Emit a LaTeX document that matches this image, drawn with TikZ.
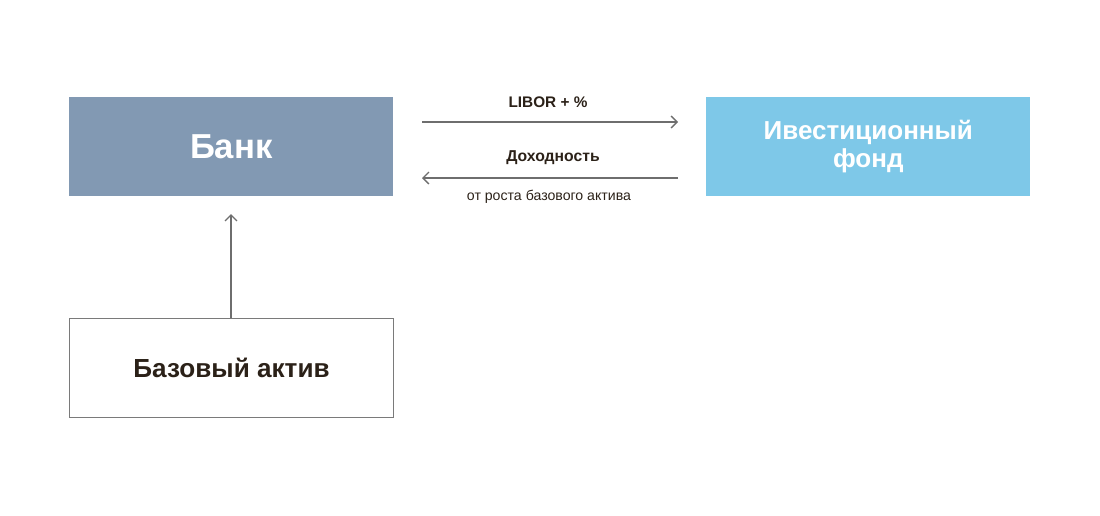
\documentclass[tikz,border=0pt]{standalone}
\usepackage{fontspec}
\setmainfont{Liberation Sans}
\usetikzlibrary{arrows.meta}
\definecolor{bankc}{HTML}{8299B3}
\definecolor{fundc}{HTML}{7EC8E8}
\definecolor{txt}{HTML}{2B2118}
\definecolor{linec}{HTML}{6E6E6E}
\definecolor{boxline}{HTML}{7A7A7A}
\begin{document}
\begin{tikzpicture}[x=0.75pt,y=-0.75pt,
  box/.style={rectangle,minimum width=243pt,minimum height=74pt,inner sep=0pt,anchor=north west},
  conn/.style={draw=linec,line width=1pt,-{Straight Barb[length=4.5pt,width=9pt,line width=1pt]}},
  lbl/.style={text=txt,inner sep=0pt,font=\fontsize{11.5}{14}\selectfont\bfseries}]
\useasboundingbox (0,0) rectangle (1100,515);
\node[box,fill=bankc,text=white,font=\fontsize{26}{30}\selectfont\bfseries] (bank) at (69,97) {Банк};
\node[box,fill=fundc,text=white,font=\fontsize{19.5}{21.5}\selectfont\bfseries,align=center] (fund) at (706,97) {Ивестиционный\\фонд};
\node[box,draw=boxline,line width=0.8pt,text=txt,font=\fontsize{19.6}{22}\selectfont\bfseries] (base) at (69,318) {Базовый актив};
\coordinate (a1) at (422,122);
\coordinate (a2) at (678,122);
\coordinate (b1) at (678,178);
\coordinate (b2) at (422,178);
\coordinate (v2) at (231,214);
\draw[conn] (a1) -- (a2);
\draw[conn] (b1) -- (b2);
\draw[conn] (base.north -| v2) -- (v2);
\node[lbl] (l1) at (548,102) {LIBOR + \%};
\node[lbl,font=\fontsize{11.8}{14}\selectfont\bfseries] (l2) at (553,158) {Доходность};
\node[text=txt,inner sep=0pt,font=\fontsize{10.6}{12}\selectfont] (l3) at (549,197) {от роста базового актива};
\end{tikzpicture}
\end{document}
